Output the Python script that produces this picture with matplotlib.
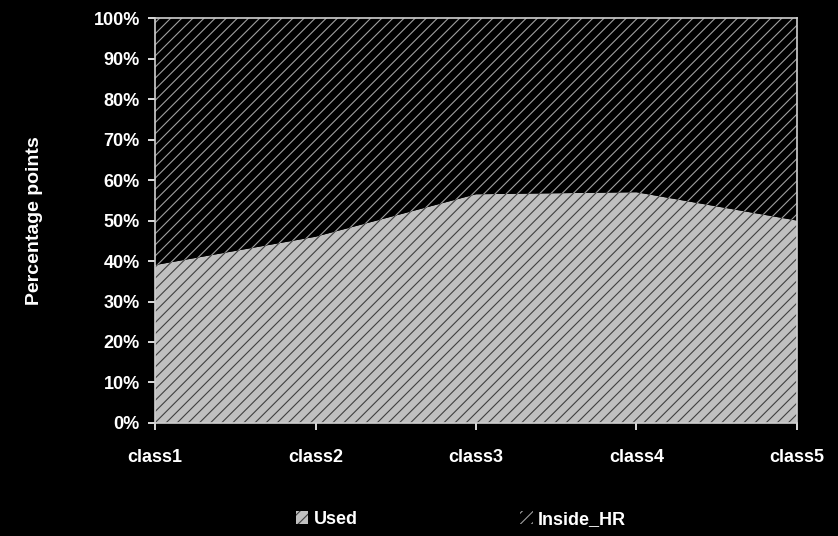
import numpy as np
import matplotlib.pyplot as plt
from matplotlib.patches import Patch

# Veriler (100% yığılmış alan)
classes = ["class1", "class2", "class3", "class4", "class5"]
used = [39, 46, 56.5, 57, 50]
inside_hr = [61, 54, 43.5, 43, 50]

plt.rcParams['font.family'] = ['Liberation Sans', 'DejaVu Sans']
plt.rcParams['font.weight'] = 'bold'
plt.rcParams['hatch.linewidth'] = 0.8

fig = plt.figure(figsize=(8.38, 5.36), dpi=100, facecolor='black')
ax = fig.add_axes([0.185, 0.211, 0.766, 0.755], facecolor='black')

x = np.arange(len(classes))
u = np.array(used, dtype=float)
h = np.array(inside_hr, dtype=float)
tot = u + h
u_pct = u / tot * 100
top = (u + h) / tot * 100

ax.fill_between(x, 0, u_pct, facecolor='#c0c0c0', edgecolor='#404040',
                hatch='///', linewidth=0)
ax.fill_between(x, u_pct, top, facecolor='black', edgecolor='#a0a0a0',
                hatch='///', linewidth=0)

ax.set_xlim(0, len(classes) - 1)
ax.set_ylim(0, 100)
ax.set_yticks(np.arange(0, 101, 10))
ax.set_yticklabels([f"{v}%" for v in range(0, 101, 10)])
ax.set_xticks(x)
ax.set_xticklabels(classes)
ax.tick_params(colors='white', labelsize=13, length=5, width=1.2, direction='out')
ax.tick_params(axis='x', pad=14)
ax.tick_params(axis='y', pad=6)
for s in ax.spines.values():
    s.set_color('#d0d0d0')
    s.set_linewidth(1.2)

ax.set_ylabel("Percentage points", color='white', fontsize=14,
              fontweight='bold', labelpad=36)

handles = [Patch(facecolor='#c0c0c0', edgecolor='#404040', hatch='///', linewidth=0),
           Patch(facecolor='black', edgecolor='#a0a0a0', hatch='///', linewidth=0)]
leg = fig.legend(handles, ["Used", "Inside_HR"], loc='lower center', ncol=2,
                 bbox_to_anchor=(0.55, -0.015), frameon=False, fontsize=13,
                 handlelength=0.7, handleheight=0.7, handletextpad=0.3,
                 columnspacing=9)
for t in leg.get_texts():
    t.set_color('white')

fig.savefig("out.png", dpi=100, facecolor='black')
